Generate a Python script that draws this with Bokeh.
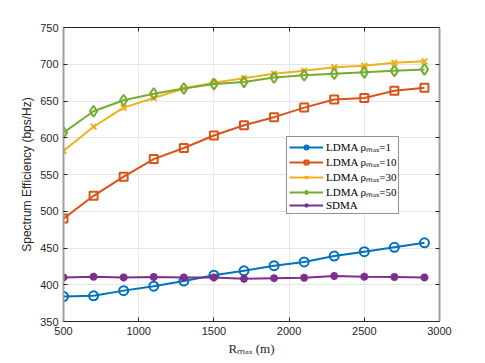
from bokeh.plotting import figure
from bokeh.models import Range1d, LinearAxis, Legend, LegendItem, FixedTicker
from bokeh.embed import file_html
from bokeh.resources import INLINE

r_max = [500, 700, 900, 1100, 1300, 1500, 1700, 1900, 2100, 2300, 2500, 2700, 2900]
ldma_rho1 = [384, 385, 392, 398, 405, 413, 419, 426, 431, 439, 445, 451, 457]
ldma_rho10 = [490, 521, 547, 571, 586, 603, 617, 628, 641, 652, 654, 664, 668]
ldma_rho30 = [582, 615, 641, 654, 667, 675, 681, 687, 691, 696, 698, 702, 704]
ldma_rho50 = [607, 636, 651, 660, 667, 673, 676, 682, 685, 687, 689, 691, 693]
sdma = [410, 411, 410, 410.5, 410, 410, 408, 409, 409.5, 412, 411, 410.5, 410]

x_ticks = [500, 1000, 1500, 2000, 2500, 3000]
y_ticks = [350, 400, 450, 500, 550, 600, 650, 700, 750]

series_labels = ["LDMA ρₘₐₓ=1", "LDMA ρₘₐₓ=10", "LDMA ρₘₐₓ=30", "LDMA ρₘₐₓ=50", "SDMA"]
series_colors = ["#0072BD", "#D95319", "#EDB120", "#77AC30", "#7E2F8E"]
series_markers = ["circle", "square", "x", "diamond", "asterisk"]
series_sizes = [9, 8, 8, 11, 8]
series_data = [ldma_rho1, ldma_rho10, ldma_rho30, ldma_rho50, sdma]

p = figure(width=477, height=363, output_backend="svg", toolbar_location=None,
           x_range=Range1d(500, 3000), y_range=Range1d(350, 750),
           min_border_left=63, min_border_right=38, min_border_top=27, min_border_bottom=42,
           background_fill_color="white", border_fill_color="white")

p.outline_line_color = None
ax_col = "#262626"
font = "Liberation Sans"
serif = "Liberation Serif"

for ax in [p.xaxis[0], p.yaxis[0]]:
    ax.major_tick_in = 4
    ax.major_tick_out = 0
    ax.minor_tick_line_color = None
    ax.major_label_text_font = font
    ax.major_label_text_font_size = "11px"
    ax.major_label_text_color = ax_col
    ax.axis_label_text_font_style = "normal"
    ax.axis_label_text_color = ax_col
    ax.major_tick_line_color = ax_col

p.xaxis[0].ticker = FixedTicker(ticks=x_ticks)
p.yaxis[0].ticker = FixedTicker(ticks=y_ticks)
p.xaxis[0].axis_line_color = ax_col
p.yaxis[0].axis_line_color = "#a0a0a0"
p.yaxis[0].axis_line_width = 2
p.xaxis[0].axis_label = "Rₘₐₓ (m)"
p.xaxis[0].axis_label_text_font = serif
p.xaxis[0].axis_label_text_font_size = "13px"
p.xaxis[0].axis_label_standoff = 3
p.xaxis[0].major_label_standoff = 5
p.yaxis[0].axis_label = "Spectrum Efficiency (bps/Hz)"
p.yaxis[0].axis_label_text_font = font
p.yaxis[0].axis_label_text_font_size = "12px"
p.yaxis[0].axis_label_standoff = 3
p.yaxis[0].major_label_standoff = 5

top = LinearAxis(ticker=FixedTicker(ticks=x_ticks),
                 major_label_overrides={t: "" for t in x_ticks},
                 major_tick_in=4, major_tick_out=0, minor_tick_line_color=None,
                 axis_line_color=ax_col, major_tick_line_color=ax_col, major_label_standoff=0)
right = LinearAxis(ticker=FixedTicker(ticks=y_ticks),
                   major_label_overrides={t: "" for t in y_ticks},
                   major_tick_in=4, major_tick_out=0, minor_tick_line_color=None,
                   axis_line_color="#a0a0a0", axis_line_width=2, major_tick_line_color=ax_col,
                   major_label_standoff=0)
p.add_layout(top, "above")
p.add_layout(right, "right")

p.xgrid.ticker = FixedTicker(ticks=x_ticks)
p.ygrid.ticker = FixedTicker(ticks=y_ticks)
p.grid.grid_line_color = "#e6e6e6"
p.grid.grid_line_width = 1

items = []
for lab, col, mk, sz, ys in zip(series_labels, series_colors, series_markers, series_sizes, series_data):
    ln = p.line(r_max, ys, line_color=col, line_width=2)
    if mk == "asterisk":
        sc = p.scatter(r_max, ys, marker=mk, size=sz, line_color=col, line_width=2.5)
    else:
        sc = p.scatter(r_max, ys, marker=mk, size=sz, line_color=col, fill_color=None, line_width=2)
    items.append(LegendItem(label=lab, renderers=[ln, sc]))

legend = Legend(items=items, location=(223, 107), label_text_font=serif,
                label_text_font_size="11px", label_text_color="black",
                glyph_width=34, glyph_height=10, spacing=0, padding=2, margin=0,
                label_standoff=3, label_height=10,
                border_line_color="#262626", border_line_width=1,
                background_fill_color="white", background_fill_alpha=1)
p.add_layout(legend, "center")

open("out.html", "w").write(file_html(p, INLINE))
